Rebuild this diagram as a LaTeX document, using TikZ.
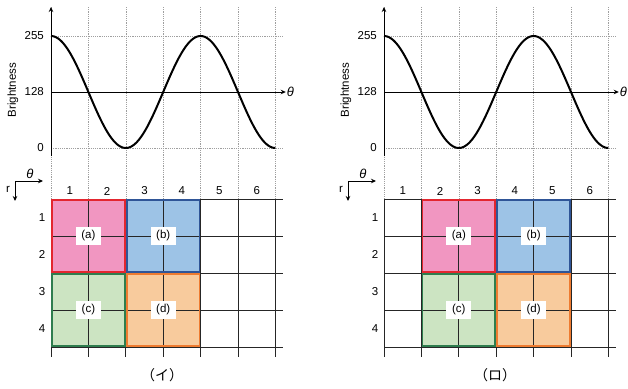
\documentclass[tikz,border=0pt]{standalone}
\usepackage{fontspec}
\setmainfont{Liberation Sans}
\newfontfamily\jpfont{Noto Sans CJK JP}
\usepackage{tikz}
\usetikzlibrary{arrows.meta}

\definecolor{pinkfill}{HTML}{F196C1}
\definecolor{pinkline}{HTML}{E3262F}
\definecolor{bluefill}{HTML}{9DC3E6}
\definecolor{blueline}{HTML}{2F5597}
\definecolor{greenfill}{HTML}{CCE4C2}
\definecolor{greenline}{HTML}{2E7D4E}
\definecolor{orangefill}{HTML}{F8CB9D}
\definecolor{orangeline}{HTML}{EE7B30}

% boxes: name / column / row / fill / border
\def\boxlist{a/1/1/pinkfill/pinkline, b/3/1/bluefill/blueline, c/1/3/greenfill/greenline, d/3/3/orangefill/orangeline}

\begin{document}
\begin{tikzpicture}[
  x=1pt, y=-1pt,
  every node/.style={font=\fontsize{11.5}{13}\selectfont, inner sep=1pt},
  guide/.style={gray!75, dash pattern=on 1.2pt off 1pt, line width=0.6pt},
  axis/.style={line width=1pt, -{Stealth[length=5pt,width=4.5pt]}},
  wave/.style={line width=2pt, black},
  cell/.style={line width=1pt, black!85},
  rim/.style={line width=1.7pt},
  tag/.style={fill=white, minimum width=25pt, minimum height=18pt, inner sep=0pt},
  thlab/.style={font=\itshape\fontsize{13}{15}\selectfont},
  caption/.style={font=\jpfont\fontsize{14}{16}\selectfont}
]
\useasboundingbox (0,0) rectangle (628,388);

\foreach \p/\px/\off/\lab in {L/51/0/イ, R/384/1/ロ}{
\begin{scope}[shift={(\px,0)}]
  % brightness plot
  \foreach \i in {0,...,6}
    \draw[guide] ({37.4*\i},7) -- ({37.4*\i},199);
  \draw[guide] (0,36) -- (232,36);
  \draw[guide] (0,148) -- (232,148);
  \node[thlab] (\p-th) at (239.5,92) {θ};
  \draw[axis] (0,92) -- (\p-th.west);
  \coordinate (\p-y0) at (0,156);
  \coordinate (\p-y1) at (0,7);
  \draw[axis] (\p-y0) -- (\p-y1);
  \node[anchor=east] (\p-t255) at (-6,36) {255};
  \node[anchor=east] (\p-t128) at (-6,92) {128};
  \node[anchor=east] (\p-t0) at (-6,148) {0};
  \node[rotate=90] (\p-yl) at (-38,90) {Brightness};
  \draw[wave] plot[domain=0:224.4, samples=150, smooth] (\x, {92-56*cos(2.4064*\x)});

  % pixel grid
  \foreach \nm/\c/\r/\fc/\lc in \boxlist
    \fill[\fc] ({37.4*(\c-1+\off)+1},{199+37*(\r-1)+1}) rectangle ({37.4*(\c+1+\off)-1},{199+37*(\r+1)-1});
  \foreach \j in {0,...,4}
    \draw[cell] (0,{199+37*\j}) -- (232,{199+37*\j});
  \foreach \i in {0,...,6}
    \draw[cell] ({37.4*\i},199) -- ({37.4*\i},357);
  \foreach \nm/\c/\r/\fc/\lc in \boxlist{
    \draw[rim,\lc] ({37.4*(\c-1+\off)+1},{199+37*(\r-1)+1}) rectangle ({37.4*(\c+1+\off)-1},{199+37*(\r+1)-1});
    \node[tag] (\p-\nm) at ({37.4*(\c+\off)},{199+37*\r}) {(\nm)};
  }
  \foreach \i in {1,...,6}
    \node (\p-c\i) at ({37.4*(\i-0.5)},191) {\i};
  \foreach \j in {1,...,4}
    \node (\p-r\j) at (-9,{199+37*(\j-0.5)}) {\j};

  % r / theta directions
  \coordinate (\p-o) at (-36,181);
  \coordinate (\p-oth) at (-8,181);
  \coordinate (\p-or) at (-36,201);
  \draw[axis] (\p-o) -- (\p-oth);
  \draw[axis] (\p-o) -- (\p-or);
  \node[thlab] (\p-ith) at (-21,174) {θ};
  \node (\p-ir) at (-43,189) {r};

  \node[caption] (\p-cap) at (111,375) {（\lab）};
\end{scope}
}
\end{tikzpicture}
\end{document}
